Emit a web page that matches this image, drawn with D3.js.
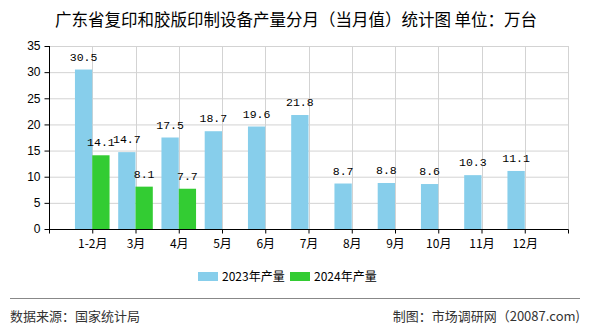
<!DOCTYPE html>
<html><head><meta charset="utf-8">
<script src="https://cdn.jsdelivr.net/npm/d3@7"></script>
<style>body{margin:0;background:#fff;}svg{display:block;}</style>
</head><body>
<svg id="c" width="590" height="330"></svg>
<script>
const categories = ["1-2月","3月","4月","5月","6月","7月","8月","9月","10月","11月","12月"];
const values2023 = [30.5,14.7,17.5,18.7,19.6,21.8,8.7,8.8,8.6,10.3,11.1];
const values2024 = [14.1,8.1,7.7,null,null,null,null,null,null,null,null];
const seriesNames = ["2023年产量","2024年产量"];
const seriesColors = ["#87CEEB","#33CC33"];
const yTicks = [0,5,10,15,20,25,30,35];

(function(){
const svg = d3.select("#c");
const pL = 49, pR = 568, pT = 46, pB = 229;
const fontNum = "'Liberation Mono','DejaVu Sans Mono',monospace";
const fontCJK = "'Noto Sans CJK SC','Noto Sans',sans-serif";

// Point scale with an empty slot at each end (as in the original chart)
const slots = ["__start", ...categories, "__end"];
const x = d3.scalePoint().domain(slots).range([pL, pR]).padding(0);
const step = x.step();
const sub = d3.scaleBand().domain(seriesNames).range([-step*0.4, step*0.4]).padding(0);
const y = d3.scaleLinear().domain([0,35]).range([pB, pT]);

// Title
svg.append("text").attr("x",296).attr("y",26).attr("text-anchor","middle")
  .attr("font-family",fontCJK).attr("font-size",16.5).attr("fill","#000")
  .text("广东省复印和胶版印制设备产量分月（当月值）统计图 单位：万台");

// Grid
const g = svg.append("g");
g.selectAll("line.h").data(yTicks).join("line")
  .attr("x1",pL).attr("x2",pR).attr("y1",d=>y(d)+0.5).attr("y2",d=>y(d)+0.5)
  .attr("stroke","#d3d3d3").attr("stroke-width",1);
g.selectAll("line.v").data(slots.slice(1)).join("line")
  .attr("x1",d=>Math.round(x(d))+0.5).attr("x2",d=>Math.round(x(d))+0.5)
  .attr("y1",pT).attr("y2",pB)
  .attr("stroke","#d3d3d3").attr("stroke-width",1);

// Bars
const data = categories.map((c,i)=>({c, vals:[values2023[i], values2024[i]]}));
const groups = svg.append("g").selectAll("g").data(data).join("g")
  .attr("transform",d=>`translate(${x(d.c)},0)`);
groups.selectAll("rect").data(d=>d.vals.map((v,j)=>({v,s:seriesNames[j],col:seriesColors[j]})).filter(e=>e.v!=null))
  .join("rect")
  .attr("x",e=>sub(e.s)).attr("width",sub.bandwidth())
  .attr("y",e=>y(e.v)).attr("height",e=>pB-y(e.v))
  .attr("fill",e=>e.col);
groups.selectAll("text").data(d=>d.vals.map((v,j)=>({v,s:seriesNames[j]})).filter(e=>e.v!=null))
  .join("text")
  .attr("x",e=>sub(e.s)+sub.bandwidth()/2).attr("y",e=>y(e.v)-9)
  .attr("text-anchor","middle").attr("font-family",fontNum).attr("font-size",11.5).attr("fill","#000")
  .text(e=>e.v.toFixed(1));

// Axes
const yAxis = svg.append("g").attr("transform",`translate(${pL+0.5},0)`)
  .call(d3.axisLeft(y).tickValues(yTicks).tickSize(5).tickPadding(4).tickFormat(d3.format("d")));
yAxis.select(".domain").attr("stroke","#000").attr("d",`M0,${pT}V${pB+0.5}`);
yAxis.selectAll(".tick line").attr("stroke","#000");
yAxis.selectAll(".tick text").attr("font-family","'Liberation Sans',Arial,sans-serif").attr("font-size",12).attr("fill","#000");

const xAxis = svg.append("g").attr("transform",`translate(0,${pB+0.5})`)
  .call(d3.axisBottom(x).tickValues(slots).tickSize(4).tickPadding(6)
     .tickFormat(d=>d.startsWith("__")?"":d));
xAxis.select(".domain").attr("stroke","#000").attr("d",`M${pL},0H${pR+0.5}`);
xAxis.selectAll(".tick line").attr("stroke","#000");
xAxis.selectAll(".tick text").attr("font-family",fontCJK).attr("font-size",12).attr("fill","#000");

// Legend
const legend = svg.append("g");
const legendX = [198, 290];
seriesNames.forEach((s,i)=>{
  legend.append("rect").attr("x",legendX[i]).attr("y",272).attr("width",20).attr("height",9).attr("fill",seriesColors[i]);
  legend.append("text").attr("x",legendX[i]+24).attr("y",281).attr("font-family",fontCJK)
    .attr("font-size",12).attr("fill","#000").text(s);
});

// Footer
svg.append("line").attr("x1",10).attr("x2",580).attr("y1",298.5).attr("y2",298.5).attr("stroke","#888").attr("stroke-width",1);
svg.append("text").attr("x",10).attr("y",321).attr("font-family",fontCJK).attr("font-size",13).attr("fill","#333").text("数据来源：国家统计局");
svg.append("text").attr("x",580).attr("y",321).attr("text-anchor","end").attr("font-family",fontCJK).attr("font-size",13).attr("fill","#333").text("制图：市场调研网（20087.com)");
})();
</script>
</body></html>
